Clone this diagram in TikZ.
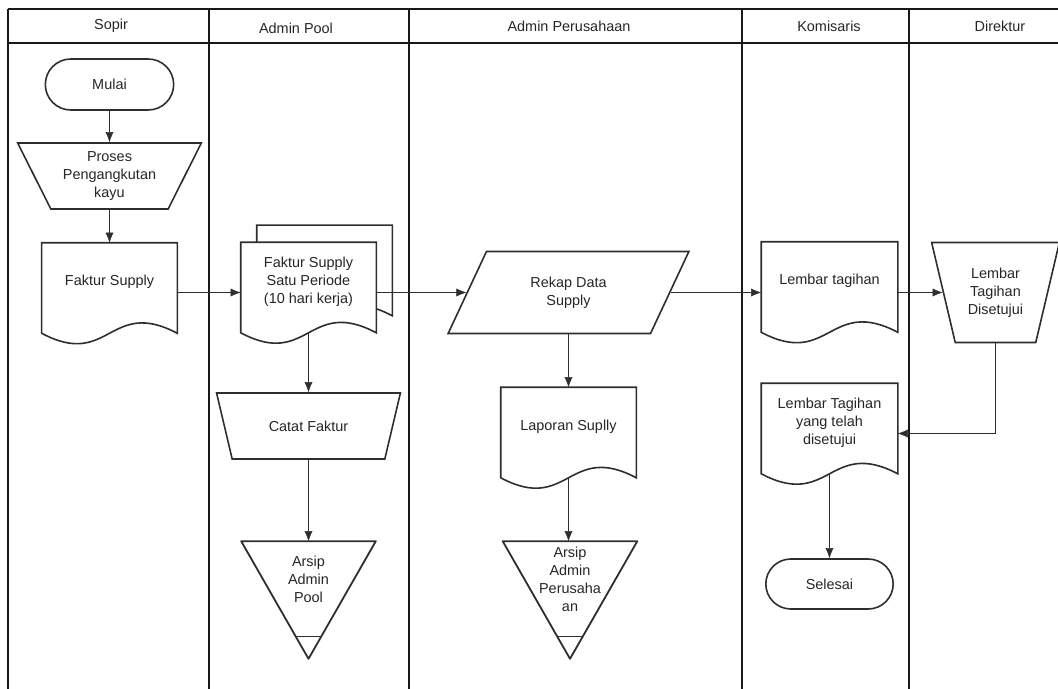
\documentclass[tikz,border=0pt]{standalone}
\usepackage{fontspec}
\setmainfont{Liberation Sans}
\usetikzlibrary{shapes.geometric,shapes.misc,arrows.meta,calc,backgrounds}

\begin{document}
\begin{tikzpicture}[x=1bp,y=-1bp,>={Latex[length=10bp,width=8bp]},line width=1.6bp,draw=black!82,
    every node/.style={font=\fontsize{14.5}{18}\selectfont,align=center,text=black!85},
    lane/.style={draw=black!90,line width=1.8bp},
    terminal/.style={rounded rectangle,draw,minimum width=135bp,minimum height=51bp},
    manual/.style={trapezium,draw,trapezium stretches=true,shape border rotate=180,
        trapezium left angle=63,trapezium right angle=63,minimum width=184bp,minimum height=66bp},
    data/.style={trapezium,draw,trapezium stretches=true,trapezium left angle=63,
        trapezium right angle=117,minimum width=241bp,minimum height=82bp},
    doc/.style={minimum width=134bp,minimum height=89bp,text depth=15pt,inner sep=0pt},
    docline/.style={draw=black!82,line width=1.6bp,fill=white},
    archive/.style={minimum width=133bp,minimum height=116bp,text depth=42pt,inner sep=0pt}]
    \useasboundingbox (0,0) rectangle (1058,689);
    % lanes
    \draw [lane] (8,9) -- (1058,9) (8,43) -- (1058,43) (8,9) -- (8,689);
    \foreach \x in {209,409,742,909}
        \draw [lane] (\x,9) -- (\x,689);
    \node (hSopir) at (111,26) {Sopir};
    \node (hPool) at (296,28) {Admin Pool};
    \node (hPerusahaan) at (569,26) {Admin Perusahaan};
    \node (hKomisaris) at (829,26) {Komisaris};
    \node (hDirektur) at (1000,26) {Direktur};
    % Sopir
    \node [terminal] (mulai) at (109.5,84.5) {Mulai};
    \node [manual] (proses) at (109.5,176) {Proses\\Pengangkutan\\kayu};
    \node [doc] (fakturSupply) at (109.5,288) {Faktur Supply};
    % Admin Pool
    \node [doc] (fakturPeriode) at (308.5,287.5) {Faktur Supply\\Satu Periode\\(10 hari kerja)};
    \node [manual] (catat) at (308.5,426) {Catat Faktur};
    \node [archive] (arsipPool) at (308.5,600) {Arsip\\Admin\\Pool};
    % Admin Perusahaan
    \node [data] (rekap) at (568.5,292.5) {Rekap Data\\Supply};
    \node [doc] (laporan) at (568.5,432.5) {Laporan Suplly};
    \node [archive] (arsipPrs) at (570,600) {Arsip\\Admin\\Perusaha\\an};
    % Komisaris and Direktur
    \node [doc,minimum width=135bp] (tagihan) at (829.5,287) {Lembar tagihan};
    \node [manual,trapezium left angle=72,trapezium right angle=72,minimum width=128bp,
        minimum height=100bp] (setuju) at (995.5,292.5) {Lembar\\Tagihan\\Disetujui};
    \node [doc,minimum width=135bp] (tagihanOk) at (829.5,428.5) {Lembar Tagihan\\yang telah\\disetujui};
    \node [terminal,minimum width=134bp,minimum height=50bp] (selesai) at (829.5,584) {Selesai};
    % document outlines
    \begin{pgfonlayer}{background}
        \draw [docline] ([shift={(16,-17)}]fakturPeriode.north west) -- ([shift={(16,-17)}]fakturPeriode.north east)
            -- ([shift={(16,-17)}]fakturPeriode.south east)
            .. controls ($(fakturPeriode.south)+(16,-53)$) and ($(fakturPeriode.south)+(16,19)$)
            .. ([shift={(16,-17)}]fakturPeriode.south west) -- cycle;
        \foreach \d in {fakturSupply,fakturPeriode,laporan,tagihan,tagihanOk}
            \draw [docline] (\d.north west) -- (\d.north east) -- (\d.south east)
                .. controls ($(\d.south)+(0,-36)$) and ($(\d.south)+(0,36)$) .. (\d.south west) -- cycle;
    \end{pgfonlayer}
    \foreach \a in {arsipPool,arsipPrs} {
        \draw [line width=1.8bp,line join=round] (\a.north west) -- (\a.north east) -- (\a.south) -- cycle;
        \draw ($(\a.south)+(-13.2,-23)$) -- ($(\a.south)+(13.2,-23)$);
    }
    % flow
    \draw [->] (mulai.south) -- (mulai.south |- proses.north);
    \draw [->] (fakturSupply.north |- proses.south) -- (fakturSupply.north);
    \draw [->] (fakturSupply.east |- rekap.west) -- (fakturPeriode.west |- rekap.west);
    \draw [->] (fakturPeriode.south) -- (fakturPeriode.south |- catat.north);
    \draw [->] (arsipPool.north |- catat.south) -- (arsipPool.north);
    \draw [->] (fakturPeriode.east |- rekap.west) -- (rekap.west);
    \draw [->] (laporan.north |- rekap.south) -- (laporan.north);
    \draw [->] (laporan.south) -- (laporan.south |- arsipPrs.north);
    \draw [->] (rekap.east) -- (rekap.east -| tagihan.west);
    \draw [->] (tagihan.east |- setuju.west) -- (setuju.west);
    \draw [->] (setuju.south) |- ([yshift=-5bp]tagihanOk.east);
    \draw [->] (tagihanOk.south) -- (selesai.north);
\end{tikzpicture}
\end{document}
